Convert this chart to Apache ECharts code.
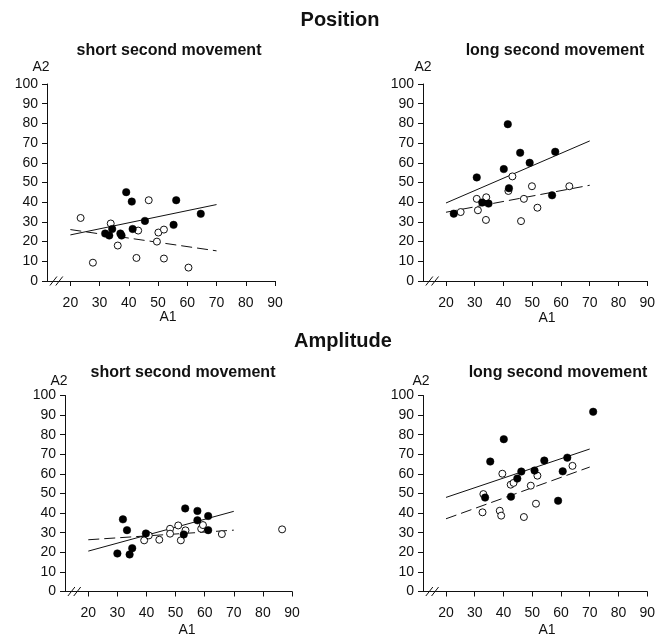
<!DOCTYPE html>
<html><head><meta charset="utf-8">
<script src="https://cdn.jsdelivr.net/npm/echarts@6/dist/echarts.min.js"></script>
<style>html,body{margin:0;padding:0;background:#fff}#c{width:658px;height:635px}</style>
</head><body><div id="c"></div>
<script>
// ---- data ----
const xTickValues = [20, 30, 40, 50, 60, 70, 80, 90];

// Position – short second movement
const posShortFilled = [[39.1,45.1],[41.0,40.3],[56.2,41.0],[64.6,34.1],[45.5,30.5],[55.3,28.5],[41.3,26.4],[34.3,26.4],[31.9,24.1],[33.3,23.1],[37.1,24.1],[37.5,23.1]];
const posShortOpen = [[23.5,32.0],[33.8,29.2],[46.8,41.0],[43.2,25.6],[50.1,24.6],[52.0,26.1],[49.6,20.0],[36.2,18.0],[27.7,9.3],[42.6,11.7],[52.0,11.4],[60.4,6.8]];
const posShortSolid = [[20,23.4],[70,38.8]];
const posShortDashed = [[20,26.1],[70,15.3]];

// Position – long second movement
const posLongFilled = [[41.5,79.6],[45.8,65.1],[58.0,65.6],[49.1,60.0],[40.1,56.8],[30.7,52.6],[41.9,47.1],[32.6,39.8],[34.8,39.3],[22.7,34.2],[56.9,43.5]];
const posLongOpen = [[25.1,35.0],[30.7,41.7],[31.1,35.9],[34.0,42.5],[33.9,31.0],[43.1,53.1],[41.7,45.7],[47.1,41.7],[49.9,48.1],[51.8,37.2],[46.1,30.4],[62.9,48.1]];
const posLongSolid = [[20,39.6],[70,71.1]];
const posLongDashed = [[20,34.9],[70,48.6]];

// Amplitude – short second movement
const ampShortFilled = [[31.9,36.8],[33.3,31.3],[30.0,19.4],[34.2,18.9],[35.1,22.1],[39.8,29.6],[53.3,42.4],[57.5,41.1],[57.5,36.3],[61.2,38.5],[61.2,31.3],[52.8,29.1]];
const ampShortOpen = [[39.2,26.1],[40.8,28.6],[44.4,26.4],[48.1,32.0],[48.1,29.5],[50.9,33.7],[51.8,26.1],[53.4,31.2],[58.8,32.0],[59.4,33.9],[65.9,29.3],[86.6,31.7]];
const ampShortSolid = [[20,20.6],[70,40.9]];
const ampShortDashed = [[20,26.4],[70,31.3]];

// Amplitude – long second movement
const ampLongFilled = [[71.2,91.7],[40.1,77.7],[35.4,66.3],[54.2,66.8],[62.2,68.3],[60.6,61.3],[46.2,61.2],[50.8,61.7],[44.8,57.6],[42.6,48.4],[33.6,47.9],[59.0,46.3]];
const ampLongOpen = [[33.0,49.7],[32.7,40.4],[39.6,60.1],[42.5,54.5],[43.5,55.4],[51.8,59.1],[49.5,54.0],[38.7,41.2],[39.2,38.7],[47.1,38.0],[51.3,44.8],[64.0,64.1]];
const ampLongSolid = [[20,48.0],[70,72.7]];
const ampLongDashed = [[20,37.1],[70,63.5]];

const panels = [
  {filled: posShortFilled, open: posShortOpen, solid: posShortSolid, dashed: posShortDashed},
  {filled: posLongFilled, open: posLongOpen, solid: posLongSolid, dashed: posLongDashed},
  {filled: ampShortFilled, open: ampShortOpen, solid: ampShortSolid, dashed: ampShortDashed},
  {filled: ampLongFilled, open: ampLongOpen, solid: ampLongSolid, dashed: ampLongDashed}
];

// ---- layout ----
const grids = [
  {left: 47, top: 84, width: 228, height: 197},
  {left: 423, top: 84, width: 228, height: 197},
  {left: 65, top: 395.5, width: 227, height: 196},
  {left: 423, top: 395.5, width: 228, height: 196}
];
const FONT = '"Liberation Sans", Arial, Helvetica, sans-serif';
const INK = '#111';

const chart = echarts.init(document.getElementById('c'), null, {renderer: 'canvas'});

const xAxes = grids.map((g, i) => ({
  gridIndex: i, type: 'value', min: 12, max: 90,
  axisLine: {show: true, lineStyle: {color: INK, width: 1}},
  axisTick: {show: true, inside: false, length: 5, customValues: xTickValues, lineStyle: {color: INK}},
  axisLabel: {show: true, customValues: xTickValues, margin: 15, color: INK, fontSize: 14, fontFamily: FONT},
  splitLine: {show: false}
}));
const yAxes = grids.map((g, i) => ({
  gridIndex: i, type: 'value', min: 0, max: 100, interval: 10,
  axisLine: {show: true, lineStyle: {color: INK, width: 1}},
  axisTick: {show: true, inside: false, length: 5, lineStyle: {color: INK}},
  axisLabel: {show: true, margin: 9, color: INK, fontSize: 14, fontFamily: FONT},
  splitLine: {show: false}
}));

const series = [];
panels.forEach((p, i) => {
  series.push({type: 'line', xAxisIndex: i, yAxisIndex: i, data: p.solid, symbol: 'none', silent: true,
    lineStyle: {color: INK, width: 1}, z: 1});
  series.push({type: 'line', xAxisIndex: i, yAxisIndex: i, data: p.dashed, symbol: 'none', silent: true,
    lineStyle: {color: INK, width: 1, type: [11, 5]}, z: 1});
  series.push({type: 'scatter', xAxisIndex: i, yAxisIndex: i, data: p.open, symbol: 'circle', symbolSize: 7,
    itemStyle: {color: '#fff', borderColor: INK, borderWidth: 1, opacity: 1}, z: 2});
  series.push({type: 'scatter', xAxisIndex: i, yAxisIndex: i, data: p.filled, symbol: 'circle', symbolSize: 7.5,
    itemStyle: {color: '#000', borderColor: '#000', borderWidth: 0.5, opacity: 1}, z: 3});
});

function txt(text, x, y, size, bold) {
  return {type: 'text', x: x, y: y, silent: true, z: 10,
    style: {text: text, fill: INK, font: (bold ? 'bold ' : '') + size + 'px ' + FONT, align: 'center', verticalAlign: 'middle'}};
}

chart.setOption({
  animation: false,
  backgroundColor: '#fff',
  grid: grids.map(g => Object.assign({containLabel: false}, g)),
  xAxis: xAxes, yAxis: yAxes, series: series
});

// texts and axis-break marks
const graphics = [
  txt('Position', 340, 20, 20, true),
  txt('Amplitude', 343, 341, 20, true),
  txt('short second movement', 169, 51, 16, true),
  txt('long second movement', 555, 51, 16, true),
  txt('short second movement', 183, 373, 16, true),
  txt('long second movement', 558, 373, 16, true),
  txt('A2', 41, 67, 14, false),
  txt('A2', 423, 67, 14, false),
  txt('A2', 59, 381, 14, false),
  txt('A2', 421, 381, 14, false),
  txt('A1', 168, 317, 14, false),
  txt('A1', 547, 318, 14, false),
  txt('A1', 187, 630, 14, false),
  txt('A1', 547, 630, 14, false)
];
grids.forEach((g, i) => {
  [14.2, 16.2].forEach(v => {
    const p = chart.convertToPixel({xAxisIndex: i, yAxisIndex: i}, [v, 0]);
    graphics.push({type: 'line', silent: true, z: 10,
      shape: {x1: p[0] - 3.5, y1: p[1] + 4.5, x2: p[0] + 3.5, y2: p[1] - 4.5},
      style: {stroke: INK, lineWidth: 1}});
  });
});
chart.setOption({graphic: graphics});
</script></body></html>
